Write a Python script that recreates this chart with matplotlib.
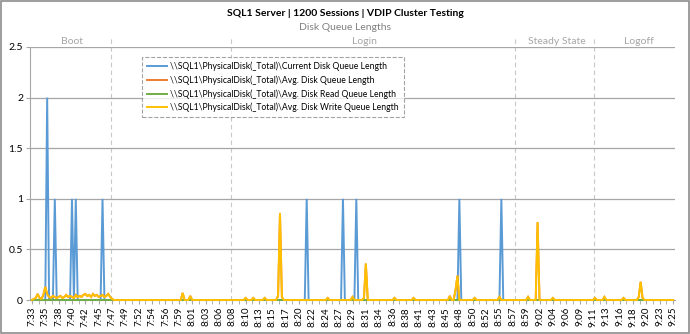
#==================================================================================================
#			HEADERS
#==================================================================================================
import numpy as np
import matplotlib
matplotlib.use('Agg')
import matplotlib.pyplot as plt
from matplotlib.patches import Rectangle

#==================================================================================================
#			DATA
#==================================================================================================
#Sample count (one sample every 20 s, from 7:33:30 to 9:25:30)
n_samples = 337
#Tick labels, one every 7 samples
tick_labels = ['7:33','7:35','7:38','7:40','7:42','7:45','7:47','7:49','7:52','7:54','7:56','7:59',
               '8:01','8:03','8:06','8:08','8:10','8:13','8:15','8:17','8:20','8:22','8:24','8:27',
               '8:29','8:31','8:34','8:36','8:38','8:41','8:43','8:45','8:48','8:50','8:52','8:55',
               '8:57','8:59','9:02','9:04','9:06','9:09','9:11','9:13','9:16','9:18','9:20','9:23','9:25']
tick_step = 7

#Current Disk Queue Length (non zero samples)
cur_idx = [8, 12, 21, 23, 37, 144, 163, 170, 224, 246]
cur_val = [2, 1, 1, 1, 1, 1, 1, 1, 1, 1]

#Avg. Disk Write Queue Length (non zero samples)
wr_idx = [1, 2, 3, 4, 5, 6, 7, 8, 9, 10, 11, 12, 13, 14, 15, 16, 17, 18, 19, 20,
          21, 22, 23, 24, 25, 26, 27, 28, 29, 30, 31, 32, 33, 34, 35, 36, 37, 38, 39, 40,
          41, 42, 79, 83, 112, 116, 122, 129, 130, 131, 155, 168, 174, 175, 190, 200,
          219, 222, 223, 232, 245, 260, 265, 273, 295, 300, 310, 318, 319, 320]
wr_val = [0.01, 0.02, 0.06, 0.02, 0.01, 0.05, 0.13, 0.06, 0.03, 0.02, 0.04, 0.03, 0.02, 0.03,
          0.04, 0.02, 0.03, 0.05, 0.03, 0.04, 0.03, 0.02, 0.05, 0.03, 0.04, 0.03, 0.05, 0.06,
          0.04, 0.05, 0.03, 0.06, 0.04, 0.05, 0.03, 0.04, 0.05, 0.03, 0.04, 0.06, 0.03, 0.01,
          0.07, 0.04, 0.02, 0.02, 0.02, 0.04, 0.86, 0.03, 0.02, 0.03, 0.02, 0.36, 0.02, 0.02,
          0.04, 0.10, 0.24, 0.02, 0.03, 0.03, 0.77, 0.02, 0.02, 0.03, 0.02, 0.03, 0.18, 0.02]

#Avg. Disk Read Queue Length (all zero)
rd_idx = []
rd_val = []

#Test phases (separators in sample units and labels)
phase_lines = [41.4, 104.3, 253.1, 294.5]
phase_names = ['Boot', 'Login', 'Steady State', 'Logoff']
phase_pos = [21, 174.5, 275, 318]

#Legend labels
labels = [r'\\SQL1\PhysicalDisk(_Total)\Current Disk Queue Length',
          r'\\SQL1\PhysicalDisk(_Total)\Avg. Disk Queue Length',
          r'\\SQL1\PhysicalDisk(_Total)\Avg. Disk Read Queue Length',
          r'\\SQL1\PhysicalDisk(_Total)\Avg. Disk Write Queue Length']
colors = ['#5B9BD5', '#ED7D31', '#70AD47', '#FFC000']

#==================================================================================================
#			BUILDING SERIES
#==================================================================================================
x = np.arange(n_samples)
current = np.zeros(n_samples)
current[cur_idx] = cur_val
write = np.zeros(n_samples)
write[wr_idx] = wr_val
read = np.zeros(n_samples)
read[rd_idx] = rd_val
avg = write + read

#==================================================================================================
#			PLOTTING
#==================================================================================================
plt.rcParams['font.family'] = ['Lato', 'DejaVu Sans']
fig = plt.figure(figsize=(6.9, 3.34), dpi=100)
ax = fig.add_axes([30/690., 34/334., 645/690., 253/334.])

for serie, c, lab in zip([current, avg, read, write], colors, labels):
    ax.plot(x, serie, color=c, lw=1.4, label=lab, solid_joinstyle='miter', zorder=3, clip_on=False)

ax.set_xlim(-1, 337)
ax.set_ylim(0, 2.5)
ax.set_yticks([0, 0.5, 1, 1.5, 2, 2.5])
ax.set_yticklabels(['0', '0.5', '1', '1.5', '2', '2.5'], fontsize=7.5)
ax.yaxis.grid(True, color='#A6A6A6', lw=0.9)
ax.set_axisbelow(True)

ticks = np.arange(len(tick_labels))*tick_step
ax.set_xticks(ticks)
ax.set_xticklabels(tick_labels, rotation=90, fontsize=7)
ax.set_xticks(ticks[:-1] + tick_step/2., minor=True)
ax.tick_params(axis='x', which='both', length=3, color='#A6A6A6', pad=2)
ax.tick_params(axis='y', length=3, color='#A6A6A6', pad=2)

for s in ['top', 'right']:
    ax.spines[s].set_visible(False)
for s in ['left', 'bottom']:
    ax.spines[s].set_color('#A6A6A6')

#Phase separators
for xl in phase_lines:
    ax.plot([xl, xl], [0, 2.6], ls=(0, (4, 3)), color='#C8C8C8', lw=0.8, clip_on=False, zorder=0.5)
for name, xp in zip(phase_names, phase_pos):
    ax.text(xp, 2.555, name, ha='center', va='center', fontsize=7.5, color='#A6A6A6')

#Legend
leg = ax.legend(loc='upper left', bbox_to_anchor=(0.174, 0.962), fontsize=6.2, frameon=True,
                fancybox=False, handlelength=2.3, handletextpad=0.4, borderpad=0.55,
                labelspacing=0.5, borderaxespad=0)
leg.get_frame().set_linestyle('--')
leg.get_frame().set_edgecolor('#8C8C8C')
leg.get_frame().set_linewidth(0.8)

#Titles
fig.text(0.5, 1 - 14/334., 'SQL1 Server | 1200 Sessions | VDIP Cluster Testing',
         ha='center', va='center', fontsize=7.5, fontweight='bold')
fig.text(0.5, 1 - 28/334., 'Disk Queue Lengths', ha='center', va='center', fontsize=7.5,
         color='#808080')

#Outer frame
fig.patches.append(Rectangle((0.001, 0.002), 0.997, 0.995, transform=fig.transFigure,
                             fill=False, edgecolor='#8C8C8C', lw=1.2))

fig.savefig('out.png', dpi=100)
